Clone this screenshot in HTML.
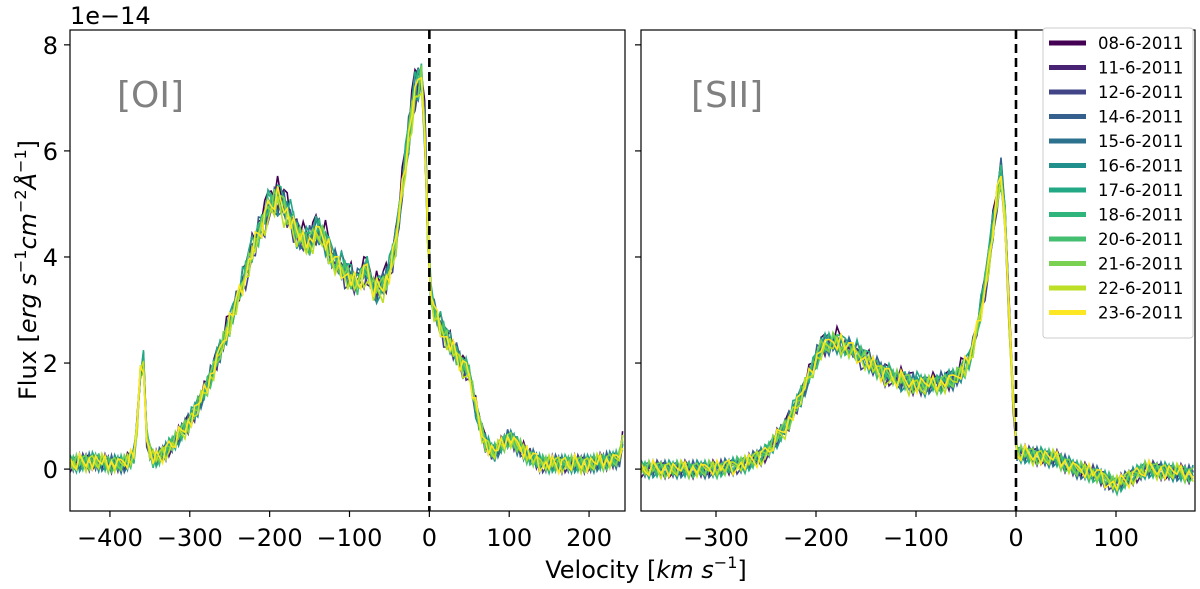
<!DOCTYPE html>
<html><head><meta charset="utf-8">
<style>
html,body{margin:0;padding:0;background:#fff;}
svg{display:block;font-family:"DejaVu Sans","Liberation Sans",sans-serif;}
</style></head>
<body>
<svg id="chart" width="1200" height="589" viewBox="0 0 1200 589"></svg>
<script>
// ---- data ----
const dates = ["08-6-2011","11-6-2011","12-6-2011","14-6-2011","15-6-2011","16-6-2011","17-6-2011","18-6-2011","20-6-2011","21-6-2011","22-6-2011","23-6-2011"];
const colors = ["#440154","#482374","#414487","#355f8d","#2c728e","#21908d","#22a884","#2fb47c","#44bf70","#7ad151","#bddf26","#fde725"];
const seriesScale = [1.04,0.99,0.97,1.02,1.0,0.98,1.03,1.01,0.99,1.0,0.97,1.0];
const jitter = [0.1,0.02,-0.14,0.2,-0.05,0.12,0.16,-0.2,-0.08,0.05,-0.12,0.18,0.0,-0.22,0.09,0.14,-0.06,-0.15,0.21,0.04,-0.1,0.07,-0.18,0.13,0.02,-0.04,0.17,-0.13,0.06,-0.09,0.11];
const oiVel = [-450,-420,-400,-380,-368,-362,-358,-354,-348,-340,-320,-300,-280,-260,-240,-220,-200,-190,-180,-170,-160,-150,-140,-130,-120,-110,-100,-90,-80,-70,-60,-50,-40,-30,-20,-12,-8,-4,0,5,20,40,50,60,70,80,100,120,140,160,200,240,245];
const oiFlux = [0.1,0.15,0.1,0.1,0.3,1.8,2.0,0.6,0.2,0.2,0.5,0.9,1.5,2.3,3.2,4.2,5.0,5.1,4.9,4.6,4.3,4.3,4.5,4.3,3.9,3.8,3.6,3.5,3.8,3.4,3.4,3.7,4.5,5.8,7.0,7.3,7.4,5.5,3.5,3.0,2.5,2.0,1.8,1.0,0.5,0.3,0.6,0.3,0.1,0.1,0.1,0.2,1.0];
const siiVel = [-375,-300,-270,-250,-230,-210,-195,-180,-160,-140,-120,-100,-80,-60,-45,-35,-25,-18,-14,-10,-5,0,20,40,60,80,100,110,130,180];
const siiFlux = [0.0,0.0,0.1,0.3,0.8,1.6,2.3,2.4,2.2,1.9,1.7,1.6,1.6,1.7,2.1,3.0,4.2,5.3,5.6,4.5,2.0,0.3,0.25,0.2,0.0,-0.1,-0.3,-0.2,0.0,-0.1];
const yTicks = [0,2,4,6,8];
const oiTicks = [-400,-300,-200,-100,0,100,200];
const siiTicks = [-300,-200,-100,0,100];

const NS="http://www.w3.org/2000/svg";
const svg=document.getElementById('chart');
function el(tag,attrs,parent){const e=document.createElementNS(NS,tag);for(const k in attrs)e.setAttribute(k,attrs[k]);(parent||svg).appendChild(e);return e;}
const yTop=30,yBot=511;
const yMin=-0.79,yMax=8.28;
const yS=v=>yBot-(v-yMin)/(yMax-yMin)*(yBot-yTop);
function interp(xs,ys,x){for(let i=0;i<xs.length-1;i++){if(x>=xs[i]&&x<=xs[i+1]){const t=(x-xs[i])/(xs[i+1]-xs[i]);return ys[i]+t*(ys[i+1]-ys[i]);}}return ys[ys.length-1];}

function panel(name,x0,x1,vmin,vmax,vel,flux,ticks,label,labelX,showY){
  const xS=v=>x0+(v-vmin)/(vmax-vmin)*(x1-x0);
  const g=el('g',{});
  
  
  const cid='clip-'+name;
  const cp=el('clipPath',{id:cid},g);el('rect',{x:x0,y:yTop,width:x1-x0,height:yBot-yTop},cp);
  const lines=el('g',{'clip-path':'url(#'+cid+')'},g);
  dates.forEach((d,si)=>{
    let pts=[];let k=0;
    for(let v=vmin;v<=vmax;v+=4){
      const base=interp(vel,flux,v)*seriesScale[si];
      const j=jitter[(k+si*7)%jitter.length]*(0.8+0.06*Math.abs(base));
      pts.push(xS(v).toFixed(1)+','+yS(base+j).toFixed(1));k++;
    }
    const p=el('polyline',{points:pts.join(' '),fill:'none',stroke:colors[si],'stroke-width':1.6},lines);
    
    
  });
  const z=el('line',{x1:xS(0),x2:xS(0),y1:yTop,y2:yBot,stroke:'#000','stroke-width':2.6,'stroke-dasharray':'9,5'},g);
  
  
  const fr=el('rect',{x:x0,y:yTop,width:x1-x0,height:yBot-yTop,fill:'none',stroke:'#000','stroke-width':1.2},g);
  
  
  ticks.forEach(t=>{
    const x=xS(t);
    el('line',{x1:x,x2:x,y1:yBot,y2:yBot+6,stroke:'#000','stroke-width':1.2},g);
    const tx=el('text',{x:x,y:yBot+35,'font-size':24,'text-anchor':'middle',fill:'#000'},g);
    tx.textContent=(t<0?'\u2212'+(-t):String(t));
    
    
  });
  yTicks.forEach(t=>{
    const y=yS(t);
    el('line',{x1:x0-6,x2:x0,y1:y,y2:y,stroke:'#000','stroke-width':1.2},g);
    if(showY){
      const tx=el('text',{x:x0-12,y:y+9,'font-size':24,'text-anchor':'end',fill:'#000'},g);
      tx.textContent=String(t);
      
      
    }
  });
  const lb=el('text',{x:labelX,y:107,'font-size':36,fill:'#808080'},g);
  lb.textContent=label;
  
  
}
panel('oi',70,625,-450,245,oiVel,oiFlux,oiTicks,'[OI]',117,true);
panel('sii',641,1195,-375,179,siiVel,siiFlux,siiTicks,'[SII]',691,false);

const off=el('text',{x:70,y:24,'font-size':24,fill:'#000'});
off.textContent='1e\u221214';


const yl=el('text',{x:0,y:0,'font-size':24,'text-anchor':'middle',fill:'#000',transform:'translate(36,270) rotate(-90)'});
yl.innerHTML='Flux [<tspan font-style="italic">erg s</tspan><tspan font-size="16" dy="-10">\u22121</tspan><tspan dy="10" font-style="italic">cm</tspan><tspan font-size="16" dy="-10">\u22122</tspan><tspan dy="10" font-style="italic">\u00c5</tspan><tspan font-size="16" dy="-10">\u22121</tspan><tspan dy="10">]</tspan>';


const xl=el('text',{x:646,y:578,'font-size':24,'text-anchor':'middle',fill:'#000'});
xl.innerHTML='Velocity [<tspan font-style="italic">km s</tspan><tspan font-size="16" dy="-10">\u22121</tspan><tspan dy="10">]</tspan>';



const lg=el('g',{});


el('rect',{x:1043,y:28,width:150,height:310,rx:3,fill:'#fff',stroke:'#ccc','stroke-width':1},lg);
dates.forEach((d,i)=>{
  const y=43+i*24.5;
  const e=el('g',{},lg);
  
  
  el('line',{x1:1049,x2:1086,y1:y,y2:y,stroke:colors[i],'stroke-width':5},e);
  const t=el('text',{x:1098,y:y+6,'font-size':16.5,fill:'#000'},e);
  t.textContent=d;
});
</script>
</body></html>
